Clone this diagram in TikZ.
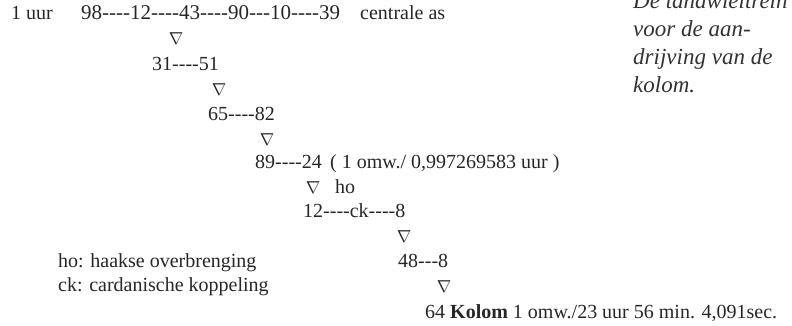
\documentclass[tikz,border=0pt]{standalone}
\usepackage{fontspec}
\setmainfont{Liberation Serif}
\newcommand\hh{\mbox{-}}
\tikzset{
  txt/.style={anchor=base west, inner sep=0pt, font=\fontsize{20}{24}\selectfont, text=black!85},
  bigtxt/.style={txt, font=\fontsize{21}{25}\selectfont},
  tri/.style={anchor=center, inner sep=0pt, font=\fontsize{16}{18}\selectfont, text=black!85},
  captxt/.style={anchor=base west, inner sep=0pt, font=\fontsize{23}{27}\selectfont\itshape, text=black!80}
}
\begin{document}
\begin{tikzpicture}[x=1pt,y=-1pt]
\useasboundingbox (0,0) rectangle (792,325);
% caption
\node[captxt] (c1) at (633,8) {De tandwieltrein};
\node[captxt] (c2) at (633,36) {voor de aan-};
\node[captxt] (c3) at (633,64) {drijving van de};
\node[captxt] (c4) at (633,92) {kolom.};
% row 1
\node[txt] (uur) at (11,19) {1 uur};
\node[bigtxt] (r1) at (81,19) {98\hh\hh\hh\hh12\hh\hh\hh\hh43\hh\hh\hh\hh90\hh\hh\hh10\hh\hh\hh\hh39};
\node[txt] (cas) at (360,19) {centrale as};
\node[tri] (v1) at (176,39) {$\nabla$};
% row 2
\node[txt] (r2) at (152,70) {31\hh\hh\hh\hh51};
\node[tri] (v2) at (219,90) {$\nabla$};
% row 3
\node[txt] (r3) at (208,120) {65\hh\hh\hh\hh82};
\node[tri] (v3) at (267,140) {$\nabla$};
% row 4
\node[txt] (r4) at (255,168) {89\hh\hh\hh\hh24};
\node[txt] (omw) at (330,168) {( 1 omw./ 0,997269583 uur )};
\node[tri] (v4) at (313,188) {$\nabla$};
\node[txt] (ho) at (335,193) {ho};
% row 5
\node[txt] (r5) at (303,217) {12\hh\hh\hh\hh ck\hh\hh\hh\hh8};
\node[tri] (v5) at (404,237) {$\nabla$};
% row 6
\node[txt] (r6) at (398,267) {48\hh\hh\hh8};
\node[tri] (v6) at (444,287) {$\nabla$};
% row 7
\node[txt] (r7) at (425,318) {64 \textbf{Kolom} 1 omw./23 uur 56 min. 4,091sec.};
% legend
\node[txt] (l1) at (58,267) {ho: haakse overbrenging};
\node[txt] (l2) at (58,291) {ck: cardanische koppeling};
\end{tikzpicture}
\end{document}
